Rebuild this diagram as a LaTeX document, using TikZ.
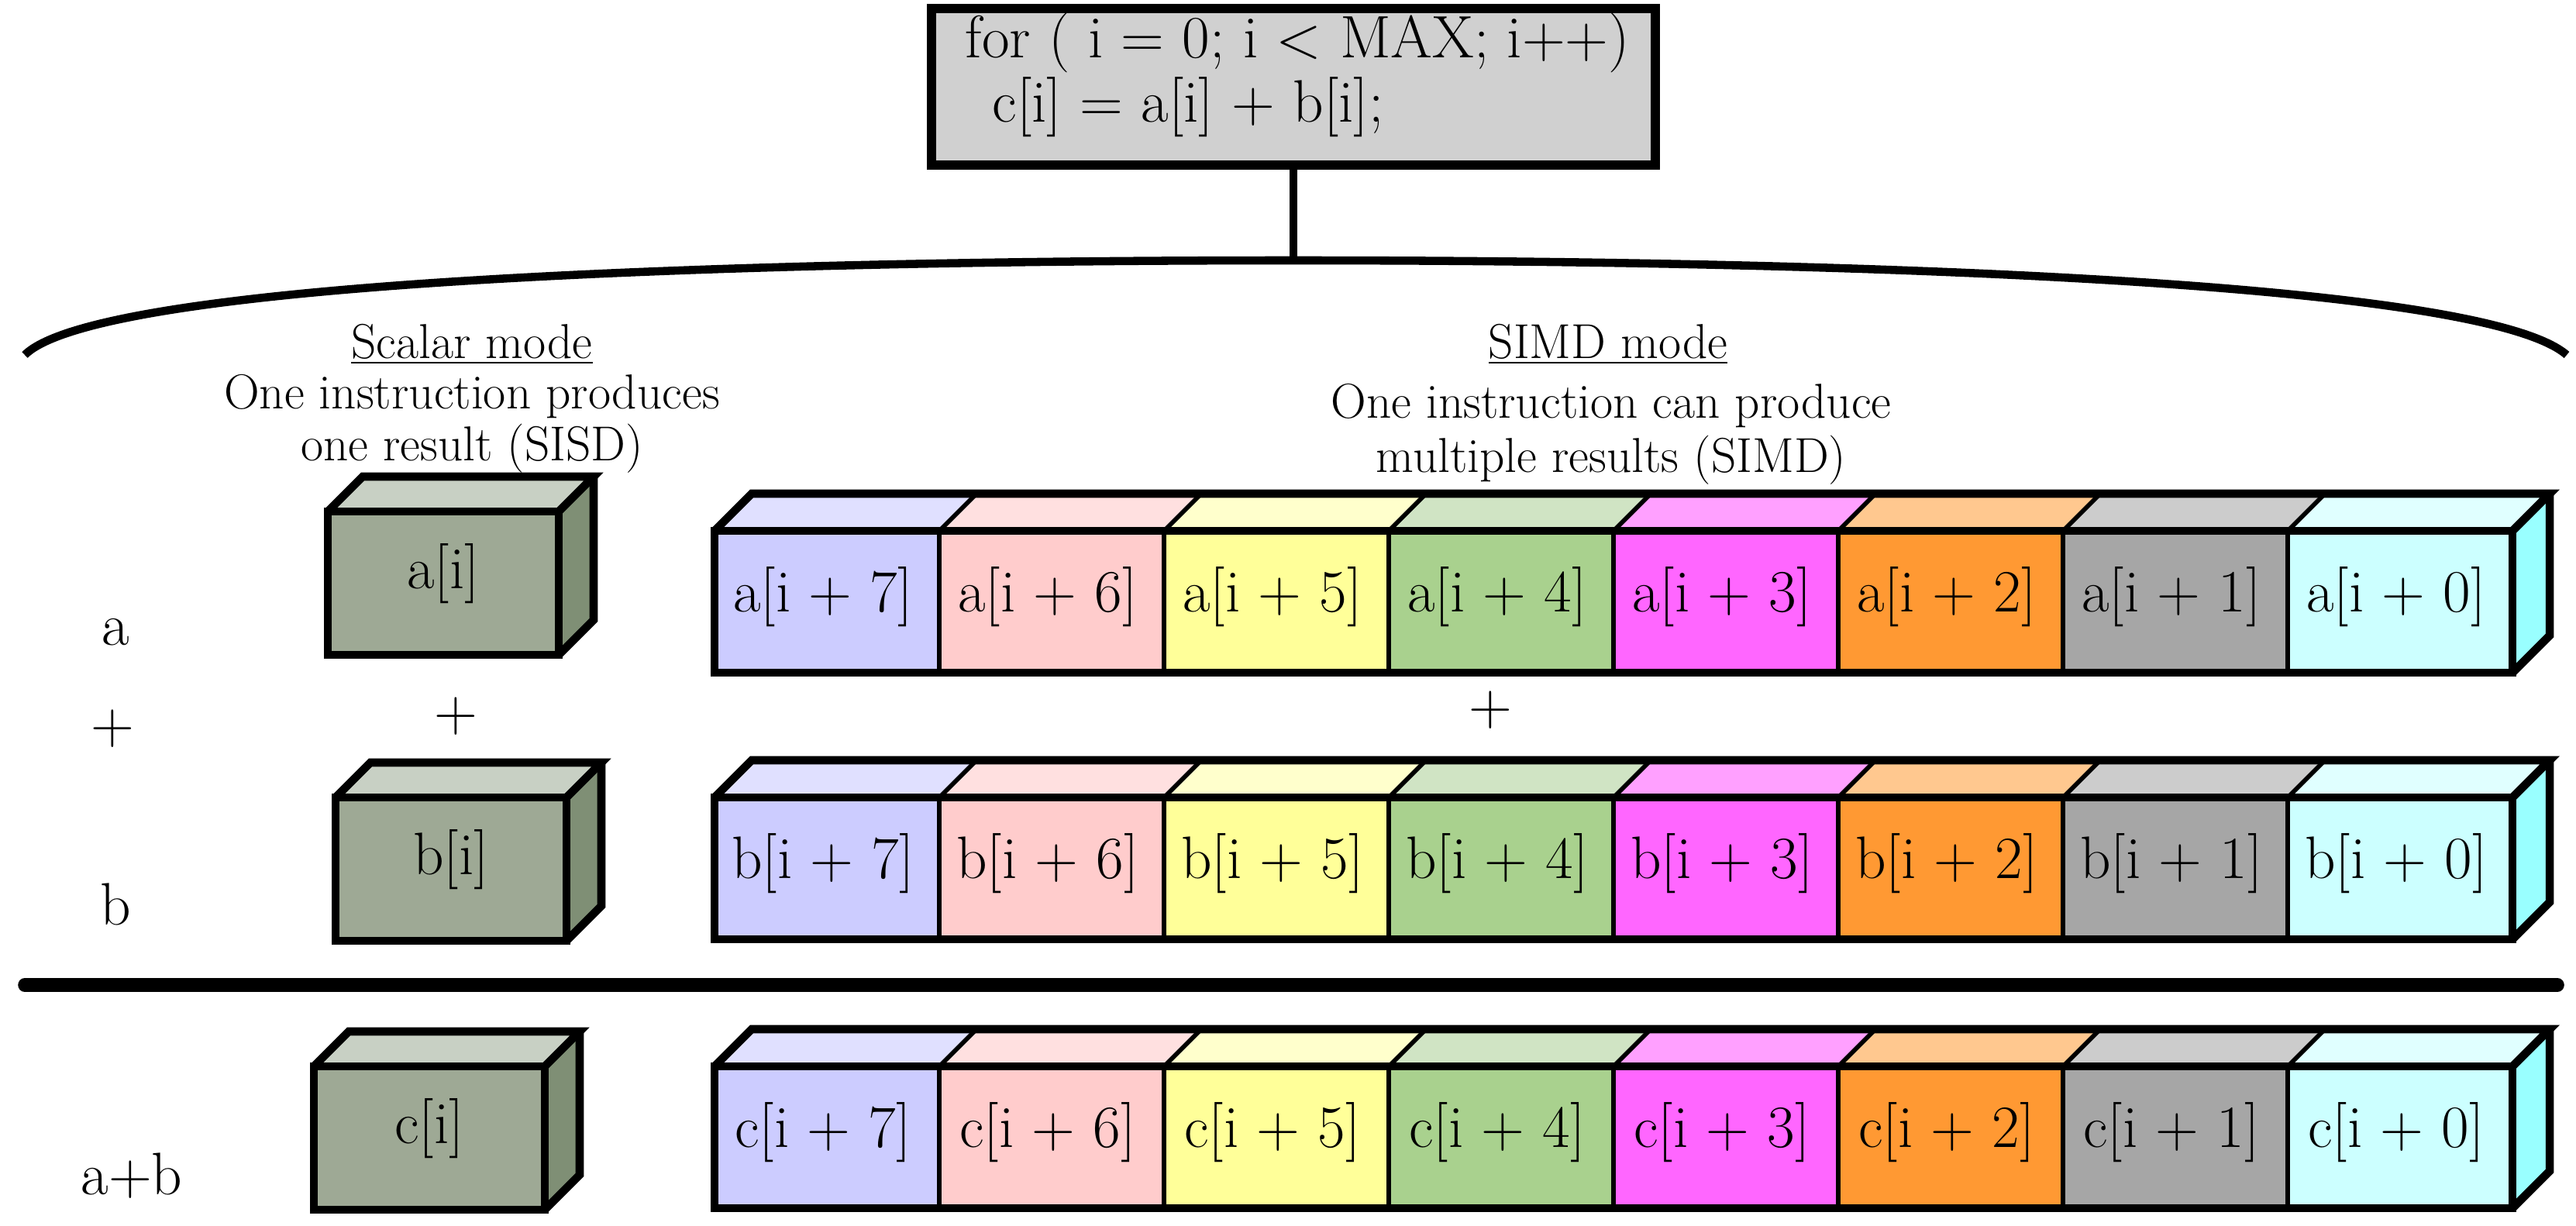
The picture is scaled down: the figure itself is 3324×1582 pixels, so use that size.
\documentclass[tikz,border=0pt]{standalone}
\begin{document}
\definecolor{fA}{HTML}{CCCCFF}\definecolor{tA}{HTML}{E0E0FF}
\definecolor{fB}{HTML}{FFCCCC}\definecolor{tB}{HTML}{FFE0E0}
\definecolor{fC}{HTML}{FFFF99}\definecolor{tC}{HTML}{FFFFCC}
\definecolor{fD}{HTML}{A9D18E}\definecolor{tD}{HTML}{D0E4C4}
\definecolor{fE}{HTML}{FF66FF}\definecolor{tE}{HTML}{FFA0FF}
\definecolor{fF}{HTML}{FF9933}\definecolor{tF}{HTML}{FFC88F}
\definecolor{fG}{HTML}{A6A6A6}\definecolor{tG}{HTML}{CCCCCC}
\definecolor{fH}{HTML}{CCFFFF}\definecolor{tH}{HTML}{E0FFFF}\definecolor{sH}{HTML}{99FFFF}
\definecolor{fS}{HTML}{9EA995}\definecolor{tS}{HTML}{C8D0C4}\definecolor{sS}{HTML}{7F8F75}
\definecolor{boxg}{HTML}{D0D0D0}
\begin{tikzpicture}[x=0.01cm,y=-0.01cm,
  txt/.style={font=\fontsize{22}{26}\selectfont, inner sep=0pt},
  hd/.style={font=\fontsize{18}{21}\selectfont, inner sep=0pt},
  edge/.style={draw=black, line width=1.6pt},
  outer/.style={draw=black, line width=3pt, line join=miter}]
\useasboundingbox (0,0) rectangle (3324,1582);
% top box
\node[draw=black, line width=3.5pt, fill=boxg, minimum width=9.33cm, minimum height=2.02cm, inner sep=0pt] (code) at (1669,112) {};
\node[txt, anchor=west] (l1) at (1245,55) {for ( i = 0; i < MAX; i++)};
\node[txt, anchor=west] (l2) at (1280,138) {c[i] = a[i] + b[i];};
\coordinate (bt) at (1669,336);
\draw[line width=3pt] (code.south) -- (bt);
\draw[line width=3pt] (32,458) .. controls (130,360) and (1000,336) .. (bt) .. controls (2340,336) and (3200,360) .. (3312,458);
% headings
\node[hd] (sm) at (609,444) {\underline{Scalar mode}};
\node[hd] (sm1) at (609,512) {One instruction produces};
\node[hd] (sm2) at (609,579) {one result (SISD)};
\node[hd] (dm) at (2075,444) {\underline{SIMD mode}};
\node[hd] (dm1) at (2079,524) {One instruction can produce};
\node[hd] (dm2) at (2079,594) {multiple results (SIMD)};
% row labels
\node[txt] (la) at (149,816) {a};
\node[txt] (lp) at (145,940) {+};
\node[txt] (lb) at (149,1167) {b};
\node[txt] (lab) at (170,1517) {a+b};
\node[txt] (sp) at (588,924) {+};
\node[txt] (dp) at (1923,916) {+};
\draw[line width=5pt, line cap=round] (32,1271) -- (3300,1271);
% scalar cubes
\foreach \r/\x/\y in {a/423/660,b/433/1029,c/405/1376}{
  \fill[tS] (\x,\y) -- ++(45,-45) -- ++(298,0) -- ++(-45,45) -- cycle;
  \fill[sS] (\x+298,\y) -- ++(45,-45) -- ++(0,185) -- ++(-45,45) -- cycle;
  \fill[fS] (\x,\y) rectangle ++(298,185);
  \draw[outer] (\x,\y) rectangle ++(298,185);
  \draw[outer] (\x,\y) -- ++(45,-45) -- ++(298,0) -- ++(-45,45);
  \draw[outer] (\x+343,\y-45) -- ++(0,185) -- ++(-45,45);
  \node[txt] (s\r) at (\x+149,\y+80) {\r[i]};
}
% SIMD rows
\foreach \r/\y in {a/685,b/1029,c/1376}{
  \foreach \i/\c/\n in {0/A/7,1/B/6,2/C/5,3/D/4,4/E/3,5/F/2,6/G/1,7/H/0}{
    \pgfmathsetmacro{\xx}{922+\i*290}
    \fill[t\c] (\xx,\y) -- ++(48,-48) -- ++(290,0) -- ++(-48,48) -- cycle;
    \fill[f\c] (\xx,\y) rectangle ++(290,183);
    \draw[edge] (\xx,\y) -- ++(48,-48);
    \draw[edge] (\xx,\y) -- ++(0,183);
    \node[txt] (\r\n) at (\xx+140,\y+85) {\r[i + \n]};
  }
  \fill[sH] (3242,\y) -- ++(48,-48) -- ++(0,183) -- ++(-48,48) -- cycle;
  \draw[outer] (922,\y) rectangle (3242,\y+183);
  \draw[outer] (922,\y) -- ++(48,-48) -- (3290,\y-48) -- (3242,\y);
  \draw[outer] (3290,\y-48) -- ++(0,183) -- (3242,\y+183);
}
\end{tikzpicture}
\end{document}
